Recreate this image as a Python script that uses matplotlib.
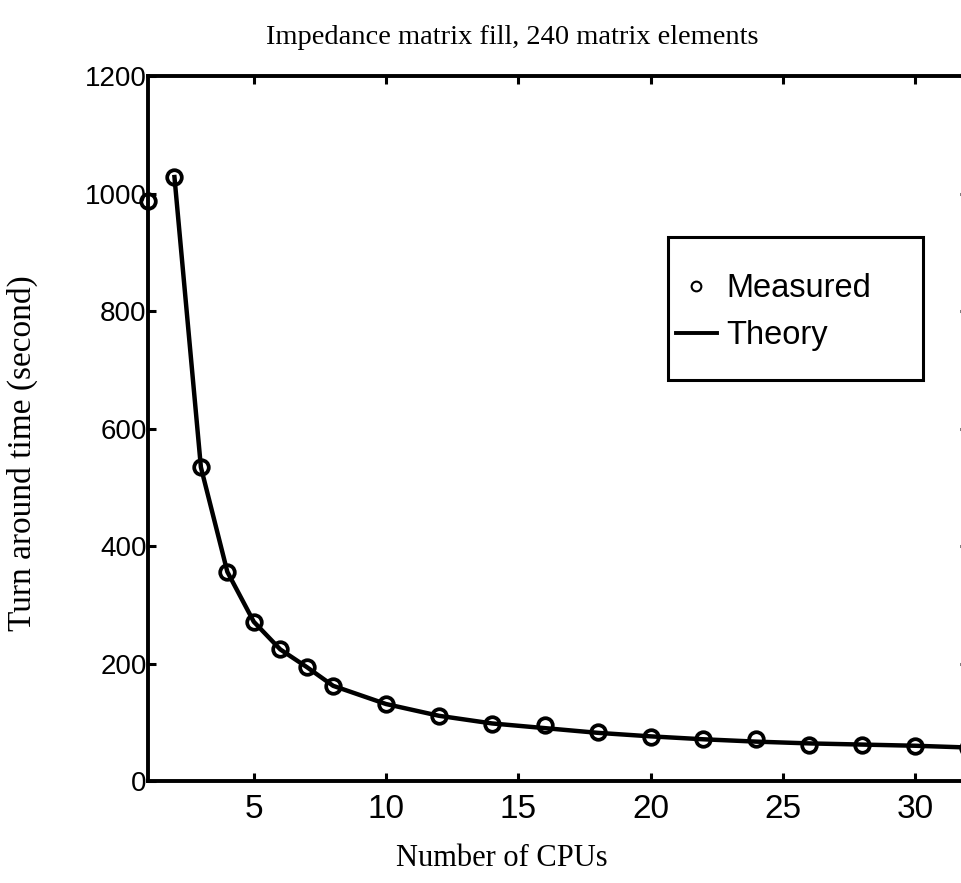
import matplotlib
matplotlib.use("Agg")
import matplotlib.pyplot as plt
from matplotlib.lines import Line2D
from matplotlib.patches import Rectangle

# Data
cpus_measured = [1, 2, 3, 4, 5, 6, 7, 8, 10, 12, 14, 16, 18, 20, 22, 24, 26, 28, 30, 32]
time_measured = [988, 1028, 534, 356, 271, 225, 194, 161, 131, 110, 97, 96, 83, 75, 72, 72, 61, 62, 60, 56]
cpus_theory = [2, 3, 4, 5, 6, 7, 8, 10, 12, 14, 16, 18, 20, 22, 24, 26, 28, 30, 32]
time_theory = [1028, 534, 356, 271, 224, 194, 162, 131, 111, 98, 90, 82, 76, 71, 67, 64, 62, 60, 57]
x_ticks = [5, 10, 15, 20, 25, 30]
y_ticks = [0, 200, 400, 600, 800, 1000, 1200]

title = "Impedance matrix fill, 240 matrix elements"
xlabel = "Number of CPUs"
ylabel = "Turn around time (second)"
legend_labels = ["Measured", "Theory"]

W, H = 962, 883
fig = plt.figure(figsize=(W / 100, H / 100), dpi=100)
ax = fig.add_axes([148 / W, 1 - 781 / H, (968 - 148) / W, (781 - 76) / H])

ax.plot(cpus_theory, time_theory, '-', color='black', lw=3.2, zorder=2)
ax.plot(cpus_measured, time_measured, 'o', mfc='none', mec='black', mew=2.7,
        ms=10.5, zorder=3, clip_on=False)

ax.set_xlim(1, 32)
ax.set_ylim(0, 1200)
ax.set_xticks(x_ticks)
ax.set_yticks(y_ticks)

for s in ax.spines.values():
    s.set_linewidth(2.8)
    s.set_color('black')

ax.tick_params(axis='both', direction='in', length=6, width=2.2, color='black',
               top=True, right=True)
ax.tick_params(axis='x', labelsize=24, pad=9)
ax.tick_params(axis='y', labelsize=20, pad=1)
for lab in ax.get_xticklabels() + ax.get_yticklabels():
    lab.set_family(['Liberation Sans', 'DejaVu Sans'])

serif = ['Liberation Serif', 'DejaVu Serif']
fig.text(512 / W, 1 - 38 / H, title, ha='center', va='center', family=serif, fontsize=20.5)
fig.text(502 / W, 1 - 858 / H, xlabel, ha='center', va='center', family=serif, fontsize=22)
fig.text(22 / W, 1 - 453 / H, ylabel, ha='center', va='center', rotation=90,
         family=serif, fontsize=24)

# legend frame
fig.patches.append(Rectangle((668 / W, 1 - 380 / H), (923 - 668) / W, (380 - 237) / H,
                             transform=fig.transFigure, fill=True, facecolor='white',
                             edgecolor='black', lw=2.2, zorder=4))

handles = [Line2D([], [], ls='none', marker='o', mfc='none', mec='black', ms=7, mew=1.5),
           Line2D([], [], ls='-', color='black', lw=2.8)]
leg = fig.legend(handles, legend_labels, loc='upper left',
                 bbox_to_anchor=(676 / W, 1 - 273 / H), bbox_transform=fig.transFigure,
                 prop={'family': ['Liberation Sans', 'DejaVu Sans'], 'size': 23.5},
                 frameon=False, handlelength=1.25, handletextpad=0.3,
                 borderpad=0, labelspacing=0.5, borderaxespad=0)
leg.set_zorder(5)

fig.savefig('out.png', dpi=100)
